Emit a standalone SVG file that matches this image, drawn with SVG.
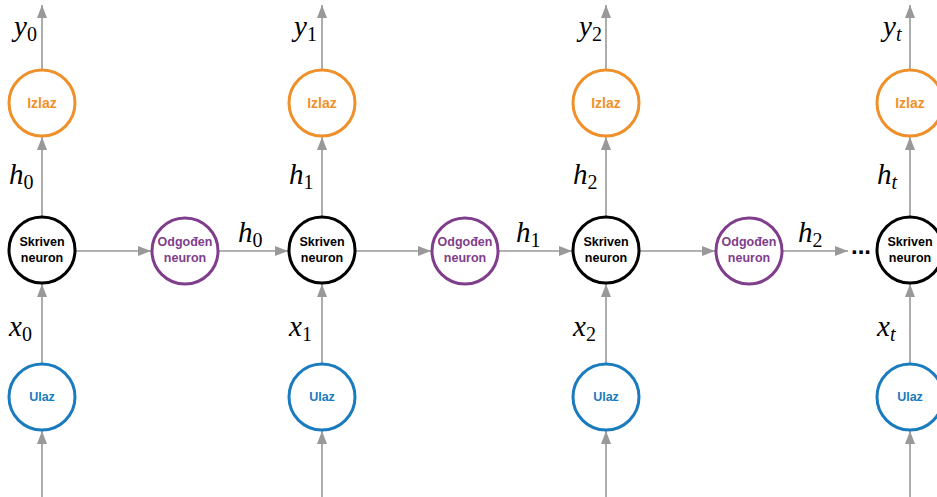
<svg xmlns="http://www.w3.org/2000/svg" width="937" height="497" viewBox="0 0 937 497">
<style>
.c{fill:#fff;stroke-width:3}
.out{stroke:#f0902a}
.hid{stroke:#000}
.del{stroke:#7f3d8c}
.in{stroke:#1a7bbf}
.t{font-family:"Liberation Sans",Arial,sans-serif;font-weight:bold;font-size:12.5px;text-anchor:middle}
.ti{font-size:14px}
.a{stroke:#999;stroke-width:1.6;fill:none;marker-end:url(#ah)}
.m{font-family:"Liberation Serif","Times New Roman",serif;font-style:italic;font-size:29px;fill:#000}
.s{font-style:normal;font-size:20px}
.si{font-size:20px}
</style>
<defs>
<marker id="ah" markerUnits="userSpaceOnUse" markerWidth="14" markerHeight="12" refX="13" refY="5" orient="auto">
<path d="M0,0 L13,5 L0,10 z" fill="#999"/>
</marker>
</defs>
<g id="connectors">
<path class="a" d="M42,497 V431"/><path class="a" d="M42,364 V284"/><path class="a" d="M42,217 V137"/><path class="a" d="M42,70 V5"/>
<path class="a" d="M322,497 V431"/><path class="a" d="M322,364 V284"/><path class="a" d="M322,217 V137"/><path class="a" d="M322,70 V5"/>
<path class="a" d="M606,497 V431"/><path class="a" d="M606,364 V284"/><path class="a" d="M606,217 V137"/><path class="a" d="M606,70 V5"/>
<path class="a" d="M910,497 V431"/><path class="a" d="M910,364 V284"/><path class="a" d="M910,217 V137"/><path class="a" d="M910,70 V5"/>
<path class="a" d="M75,251 H151"/><path class="a" d="M218,251 H288"/>
<path class="a" d="M355,251 H431"/><path class="a" d="M498,251 H572"/>
<path class="a" d="M639,251 H715"/><path class="a" d="M782,251 H848"/>
</g>
<g id="labels">
<text class="m" x="14" y="36">y<tspan class="s" dy="5">0</tspan></text>
<text class="m" x="294" y="36">y<tspan class="s" dy="5">1</tspan></text>
<text class="m" x="579" y="36">y<tspan class="s" dy="5">2</tspan></text>
<text class="m" x="883" y="36">y<tspan class="si" dy="5">t</tspan></text>
<text class="m" x="9" y="184">h<tspan class="s" dy="5">0</tspan></text>
<text class="m" x="289" y="184">h<tspan class="s" dy="5">1</tspan></text>
<text class="m" x="573" y="184">h<tspan class="s" dy="5">2</tspan></text>
<text class="m" x="877" y="184">h<tspan class="si" dy="5">t</tspan></text>
<text class="m" x="9" y="336">x<tspan class="s" dy="5">0</tspan></text>
<text class="m" x="289" y="336">x<tspan class="s" dy="5">1</tspan></text>
<text class="m" x="573" y="336">x<tspan class="s" dy="5">2</tspan></text>
<text class="m" x="877" y="336">x<tspan class="si" dy="5">t</tspan></text>
<text class="m" x="238" y="242">h<tspan class="s" dy="5">0</tspan></text>
<text class="m" x="516" y="242">h<tspan class="s" dy="5">1</tspan></text>
<text class="m" x="798" y="242">h<tspan class="s" dy="5">2</tspan></text>
<text x="851" y="254" style="font-family:'Liberation Sans',Arial,sans-serif;font-weight:bold;font-size:24px">...</text>
</g>
<g id="out0"><circle class="c out" cx="42" cy="103" r="33"/><text class="t ti" x="42" y="108" fill="#f0902a">Izlaz</text></g>
<g id="out1"><circle class="c out" cx="322" cy="103" r="33"/><text class="t ti" x="322" y="108" fill="#f0902a">Izlaz</text></g>
<g id="out2"><circle class="c out" cx="606" cy="103" r="33"/><text class="t ti" x="606" y="108" fill="#f0902a">Izlaz</text></g>
<g id="out3"><circle class="c out" cx="910" cy="103" r="33"/><text class="t ti" x="910" y="108" fill="#f0902a">Izlaz</text></g>
<g id="hid0"><circle class="c hid" cx="42" cy="250" r="33"/><text class="t" x="42" y="246">Skriven</text><text class="t" x="42" y="262">neuron</text></g>
<g id="hid1"><circle class="c hid" cx="322" cy="250" r="33"/><text class="t" x="322" y="246">Skriven</text><text class="t" x="322" y="262">neuron</text></g>
<g id="hid2"><circle class="c hid" cx="606" cy="250" r="33"/><text class="t" x="606" y="246">Skriven</text><text class="t" x="606" y="262">neuron</text></g>
<g id="hid3"><circle class="c hid" cx="910" cy="250" r="33"/><text class="t" x="910" y="246">Skriven</text><text class="t" x="910" y="262">neuron</text></g>
<g id="del0"><circle class="c del" cx="185" cy="251" r="33"/><text class="t" x="185" y="246" fill="#7f3d8c">Odgođen</text><text class="t" x="185" y="262" fill="#7f3d8c">neuron</text></g>
<g id="del1"><circle class="c del" cx="465" cy="251" r="33"/><text class="t" x="465" y="246" fill="#7f3d8c">Odgođen</text><text class="t" x="465" y="262" fill="#7f3d8c">neuron</text></g>
<g id="del2"><circle class="c del" cx="749" cy="251" r="33"/><text class="t" x="749" y="246" fill="#7f3d8c">Odgođen</text><text class="t" x="749" y="262" fill="#7f3d8c">neuron</text></g>
<g id="in0"><circle class="c in" cx="42" cy="397" r="33"/><text class="t" x="42" y="401" fill="#1a7bbf">Ulaz</text></g>
<g id="in1"><circle class="c in" cx="322" cy="397" r="33"/><text class="t" x="322" y="401" fill="#1a7bbf">Ulaz</text></g>
<g id="in2"><circle class="c in" cx="606" cy="397" r="33"/><text class="t" x="606" y="401" fill="#1a7bbf">Ulaz</text></g>
<g id="in3"><circle class="c in" cx="910" cy="397" r="33"/><text class="t" x="910" y="401" fill="#1a7bbf">Ulaz</text></g>
</svg>
